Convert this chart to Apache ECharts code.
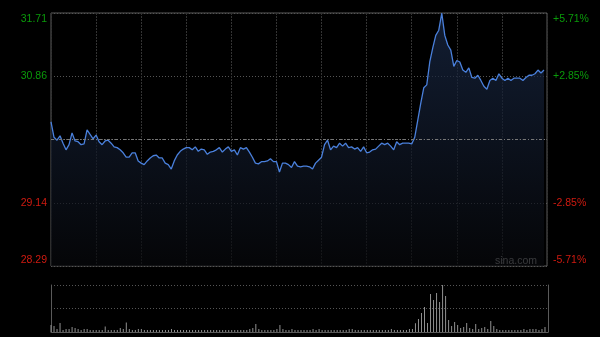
<!DOCTYPE html>
<html>
<head>
<meta charset="utf-8">
<script src="https://cdn.jsdelivr.net/npm/echarts@6/dist/echarts.min.js"></script>
<style>
html,body{margin:0;padding:0;background:#000;}
#c{width:600px;height:337px;}
</style>
</head>
<body>
<div id="c"></div>
<script>
// previous close
const preClose = 30.00;

// price every 2 minutes (HK session 09:30-12:00, 13:00-16:00)
const prices = [
30.24,30.03,29.99,30.05,29.95,29.86,29.93,30.09,29.98,29.97,
29.93,29.94,30.13,30.07,30.01,30.06,29.97,29.93,29.98,29.99,
29.95,29.90,29.89,29.86,29.82,29.76,29.76,29.82,29.82,29.71,
29.68,29.66,29.71,29.75,29.78,29.79,29.75,29.75,29.68,29.66,
29.60,29.71,29.79,29.84,29.87,29.89,29.89,29.86,29.90,29.84,
29.87,29.86,29.80,29.83,29.84,29.86,29.89,29.83,29.87,29.90,
29.84,29.86,29.79,29.89,29.87,29.89,29.83,29.76,29.68,29.67,
29.70,29.70,29.71,29.74,29.70,29.70,29.56,29.68,29.68,29.66,
29.62,29.70,29.64,29.63,29.64,29.64,29.63,29.60,29.68,29.72,
29.76,29.93,29.99,29.86,29.91,29.89,29.95,29.91,29.95,29.89,
29.90,29.87,29.89,29.84,29.90,29.82,29.83,29.86,29.87,29.91,
29.95,29.93,29.95,29.91,29.86,29.97,29.93,29.95,29.95,29.95,
29.94,30.03,30.26,30.49,30.70,30.74,31.05,31.24,31.41,31.48,
31.71,31.41,31.28,31.21,30.99,31.07,31.05,30.94,30.91,30.97,
30.84,30.83,30.87,30.80,30.72,30.68,30.80,30.83,30.80,30.89,
30.83,30.80,30.83,30.80,30.83,30.83,30.83,30.80,30.84,30.87,
30.87,30.89,30.94,30.90,30.94
];

// volume every 2 minutes (relative units)
const volumes = [
70,60,30,90,20,30,30,50,40,30,
20,30,30,20,20,20,20,20,55,20,
20,20,20,40,30,95,30,20,20,30,
30,20,20,20,20,20,20,20,20,20,
30,20,20,20,20,20,20,20,20,20,
20,20,20,20,20,20,20,20,20,20,
20,20,20,20,20,20,30,40,80,30,
20,20,20,20,20,30,70,30,20,20,
30,20,20,20,20,20,20,30,20,30,
20,20,20,20,20,20,20,20,20,30,
30,20,20,20,20,20,20,20,20,20,
20,20,20,30,20,20,20,20,20,30,
30,87,130,190,250,90,380,320,390,300,
470,360,120,60,100,70,40,50,90,40,
30,80,30,40,50,30,110,60,30,20,
20,20,20,20,20,20,20,30,20,30,
30,30,20,30,50
];

// time categories
const times = [];
(function(){
  function push(h0,m0,h1,m1){
    let t=h0*60+m0, e=h1*60+m1;
    for(;t<=e;t+=2){
      const h=Math.floor(t/60), m=t%60;
      times.push((h<10?'0':'')+h+':'+(m<10?'0':'')+m);
    }
  }
  push(9,30,12,0);
  push(13,2,16,0);
})();

const pctData = prices.map(p => (p - preClose) / preClose * 100);

const GREEN = '#0a9a0a', RED = '#d01a10', FONT = '"Liberation Sans", Arial, sans-serif';
const volMax = Math.max.apply(null, volumes);

function priceLabel(v){
  if (Math.abs(v) < 1e-6) return '';
  const s = (preClose * (1 + v / 100) + 1e-9).toFixed(2);
  const key = v > 5 ? 'gt' : v > 0 ? 'g' : v < -5 ? 'rb' : 'r';
  return '{' + key + '|' + s + '}';
}
function pctLabel(v){
  if (Math.abs(v) < 1e-6) return '';
  const a = (Math.floor(Math.abs(v) * 100 + 1e-6) / 100).toFixed(2);
  const s = (v > 0 ? '+' : '-') + a + '%';
  const key = v > 5 ? 'gt' : v > 0 ? 'g' : v < -5 ? 'rb' : 'r';
  return '{' + key + '|' + s + '}';
}
const rich = {
  gt: {color: GREEN, fontSize: 10.5, fontFamily: FONT, padding: [12,0,0,0]},
  g:  {color: GREEN, fontSize: 10.5, fontFamily: FONT},
  r:  {color: RED, fontSize: 10.5, fontFamily: FONT},
  rb: {color: RED, fontSize: 10.5, fontFamily: FONT, padding: [0,0,12,0]}
};

const chart = echarts.init(document.getElementById('c'), null, {renderer: 'canvas'});
chart.setOption({
  backgroundColor: '#000',
  animation: false,
  grid: [
    {left: 51, right: 53, top: 13, height: 253, show: true, borderColor: '#5a5a5a', borderWidth: 1, backgroundColor: 'transparent'},
    {left: 51, right: 52, top: 285, height: 47}
  ],
  xAxis: [
    {type: 'category', gridIndex: 0, data: times, boundaryGap: false,
     axisLine: {show: false}, axisTick: {show: false}, axisLabel: {show: false},
     splitLine: {show: true, interval: 14, lineStyle: {color: '#333', type: [2,1], width: 1}}},
    {type: 'category', gridIndex: 1, data: times, boundaryGap: false,
     axisLine: {show: true, lineStyle: {color: '#5a5a5a'}}, axisTick: {show: false}, axisLabel: {show: false},
     splitLine: {show: false}}
  ],
  yAxis: [
    {type: 'value', gridIndex: 0, min: -5.71, max: 5.71, interval: 2.855, position: 'left',
     axisLine: {show: false}, axisTick: {show: false},
     axisLabel: {show: true, margin: 4, formatter: priceLabel, rich: rich},
     splitLine: {show: true, lineStyle: {color: '#555', type: [1,2], width: 1}}},
    {type: 'value', gridIndex: 0, min: -5.71, max: 5.71, interval: 2.855, position: 'right',
     axisLine: {show: false}, axisTick: {show: false},
     axisLabel: {show: true, margin: 6, formatter: pctLabel, rich: rich},
     splitLine: {show: false}},
    {type: 'value', gridIndex: 1, min: 0, max: volMax, interval: volMax / 2, position: 'left',
     axisLine: {show: true, lineStyle: {color: '#5a5a5a'}}, axisTick: {show: false}, axisLabel: {show: false},
     splitLine: {show: true, lineStyle: {color: '#555', type: [1,2], width: 1}}},
    {type: 'value', gridIndex: 1, min: 0, max: volMax, interval: volMax / 2, position: 'right',
     axisLine: {show: true, lineStyle: {color: '#5a5a5a'}}, axisTick: {show: false}, axisLabel: {show: false},
     splitLine: {show: false}}
  ],
  series: [
    {type: 'line', xAxisIndex: 0, yAxisIndex: 0, data: pctData, symbol: 'none', smooth: false,
     lineStyle: {color: '#4a80dc', width: 1.3},
     areaStyle: {origin: 'start', color: new echarts.graphic.LinearGradient(0, 0, 0, 1, [
       {offset: 0, color: '#1a2a48'}, {offset: 1, color: '#07080b'}])},
     markLine: {silent: true, symbol: 'none', label: {show: false},
       lineStyle: {color: '#777', type: [3,2,1,2], width: 1},
       data: [{yAxis: 0}]}},
    {type: 'bar', xAxisIndex: 1, yAxisIndex: 2, data: volumes, barWidth: 1,
     itemStyle: {color: '#909090'}}
  ],
  graphic: [
    {type: 'text', right: 63, top: 256, silent: true,
     style: {text: 'sina.com', fill: '#a8a8a8', font: '10.5px ' + FONT}}
  ]
});
</script>
</body>
</html>
